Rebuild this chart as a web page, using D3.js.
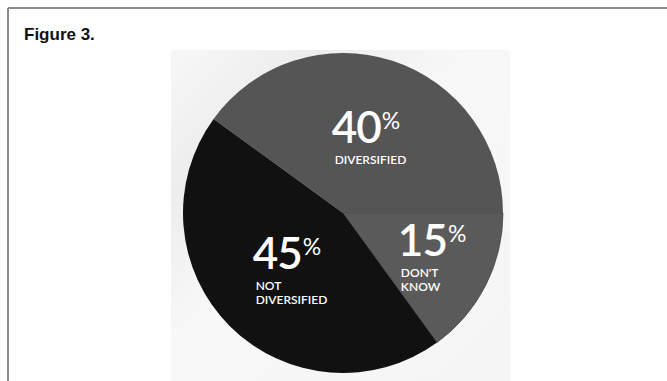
<!DOCTYPE html>
<html>
<head>
<meta charset="utf-8">
<script src="https://cdn.jsdelivr.net/npm/d3@7"></script>
<style>
  html, body { margin: 0; padding: 0; background: #ffffff; }
  svg { display: block; }
</style>
</head>
<body>
<svg id="chart" width="667" height="381"></svg>
<script>
// ---- data ----
const categories = ["DIVERSIFIED", "DON'T KNOW", "NOT DIVERSIFIED"];
const values = [40, 15, 45];
const labelLines = [["DIVERSIFIED"], ["DON'T", "KNOW"], ["NOT", "DIVERSIFIED"]];
const sliceColors = ["#555555", "#5a5a5a", "#111111"];
const title = "Figure 3.";

const W = 667, H = 381;
const svg = d3.select("#chart");

// frame
svg.append("line").attr("x1", 8).attr("y1", 8).attr("x2", W).attr("y2", 8)
  .attr("stroke", "#8a8a8a").attr("stroke-width", 2);
svg.append("line").attr("x1", 8).attr("y1", 8).attr("x2", 8).attr("y2", H)
  .attr("stroke", "#8a8a8a").attr("stroke-width", 2);

// title
svg.append("text").attr("x", 24).attr("y", 40)
  .attr("font-family", "Liberation Sans, Arial, sans-serif")
  .attr("font-weight", "bold").attr("font-size", 17).attr("fill", "#111")
  .text(title);

// photo-like background panel
const defs = svg.append("defs");
const g1 = defs.append("linearGradient").attr("id", "bg").attr("x1", 0).attr("y1", 0).attr("x2", 1).attr("y2", 1);
g1.append("stop").attr("offset", "0%").attr("stop-color", "#f7f7f7");
g1.append("stop").attr("offset", "22%").attr("stop-color", "#ededed");
g1.append("stop").attr("offset", "45%").attr("stop-color", "#f8f8f8");
g1.append("stop").attr("offset", "100%").attr("stop-color", "#f5f5f5");
svg.append("rect").attr("x", 171).attr("y", 50).attr("width", 339).attr("height", H - 50)
  .attr("fill", "url(#bg)");

// pie
const cx = 343, cy = 213, R = 160;
const pie = d3.pie().sort(null).value(d => d)
  .startAngle(-0.3 * Math.PI).endAngle(1.7 * Math.PI);
const arcs = pie(values);
const arc = d3.arc().innerRadius(0).outerRadius(R);
const color = d3.scaleOrdinal().domain(categories).range(sliceColors);

const pg = svg.append("g").attr("transform", `translate(${cx},${cy})`);
pg.selectAll("path.slice").data(arcs).enter().append("path")
  .attr("class", "slice")
  .attr("d", arc)
  .attr("fill", (d, i) => color(categories[i]))
  .attr("stroke", (d, i) => i === 1 ? "#4e4e4e" : "none")
  .attr("stroke-width", 0.8);

// labels
const labelRadius = [84, 100, 75];
const labelNudgeY = [0, -5, 0];
const font = "Lato, 'Open Sans', sans-serif";
arcs.forEach((a, i) => {
  const la = d3.arc().innerRadius(labelRadius[i]).outerRadius(labelRadius[i]);
  const [lx, ly0] = la.centroid(a);
  const ly = ly0 + labelNudgeY[i];
  const g = pg.append("g");
  const num = g.append("text").attr("x", 0).attr("y", 0)
    .attr("font-family", font).attr("font-size", 44).attr("font-weight", 600)
    .attr("fill", "#ffffff").attr("letter-spacing", -1).text(values[i]);
  const nw = num.node().getComputedTextLength();
  g.append("text").attr("x", nw + 1).attr("y", -14)
    .attr("font-family", font).attr("font-size", 23).attr("font-weight", 400)
    .attr("fill", "#ffffff").text("%");
  labelLines[i].forEach((t, j) => {
    g.append("text").attr("x", 3).attr("y", 21 + j * 14)
      .attr("font-family", font).attr("font-size", 12).attr("font-weight", 600)
      .attr("fill", "#ffffff").text(t);
  });
  const bb = g.node().getBBox();
  g.attr("transform", `translate(${lx - (bb.x + bb.width / 2)},${ly - (bb.y + bb.height / 2)})`);
});
</script>
</body>
</html>
